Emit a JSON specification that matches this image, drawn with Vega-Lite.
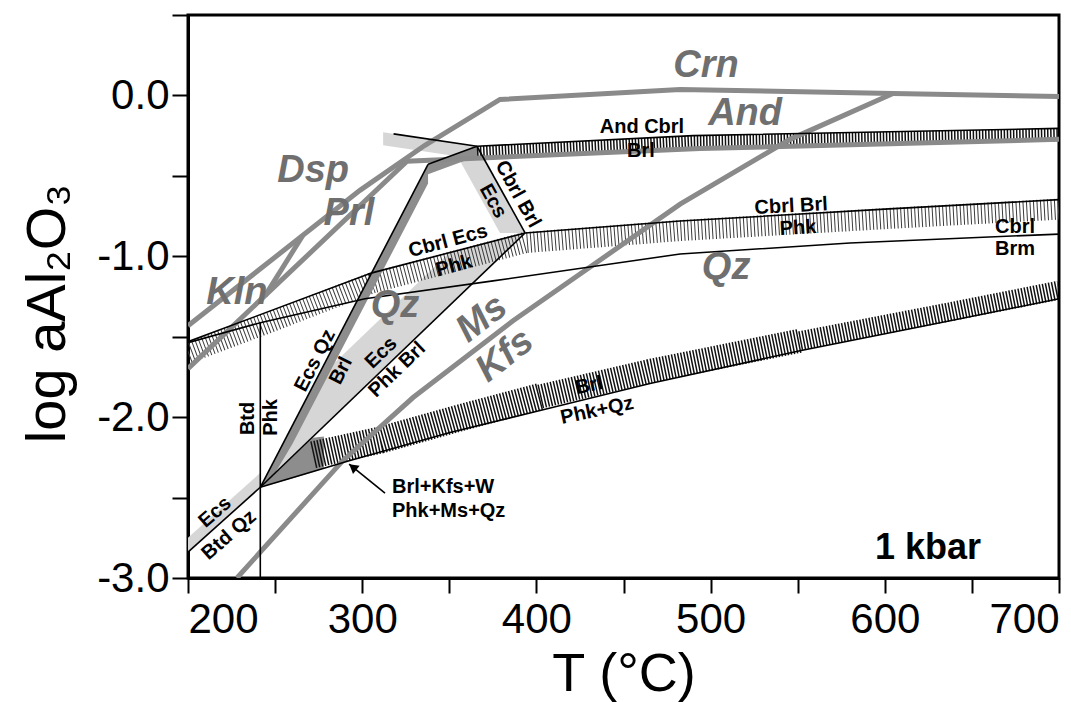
{
  "$schema": "https://vega.github.io/schema/vega-lite/v6.json",
  "width": 871,
  "height": 563,
  "autosize": {"type": "none"},
  "padding": {"left": 188, "top": 15, "right": 12, "bottom": 124},
  "background": "white",
  "config": {"view": {"stroke": "#000", "strokeWidth": 3}, "font": "Liberation Sans"},
  "datasets": {
    "boundaries": [
      {"id": "a", "T": 200, "A": -1.432}, {"id": "a", "T": 298.7, "A": -0.59}, {"id": "a", "T": 336, "A": -0.31}, {"id": "a", "T": 379.1, "A": -0.025}, {"id": "a", "T": 482.5, "A": 0.037}, {"id": "a", "T": 604.7, "A": 0.012}, {"id": "a", "T": 700, "A": -0.006},
      {"id": "b", "T": 200, "A": -1.698}, {"id": "b", "T": 325.7, "A": -0.409}, {"id": "b", "T": 493.9, "A": -0.33}, {"id": "b", "T": 700, "A": -0.273},
      {"id": "c", "T": 244.2, "A": -1.246}, {"id": "c", "T": 266, "A": -0.869},
      {"id": "d", "T": 228.1, "A": -3.0}, {"id": "d", "T": 289, "A": -2.269}, {"id": "d", "T": 329.2, "A": -1.878}, {"id": "d", "T": 386.6, "A": -1.401}, {"id": "d", "T": 482.5, "A": -0.676}, {"id": "d", "T": 545.6, "A": -0.273}, {"id": "d", "T": 604.7, "A": 0.012}
    ],
    "reactions": [
      {"id": "r1", "T": 200, "A": -2.839}, {"id": "r1", "T": 241.5, "A": -2.436},
      {"id": "r2", "T": 241.5, "A": -3.0}, {"id": "r2", "T": 241.5, "A": -1.413},
      {"id": "r3", "T": 241.5, "A": -2.436}, {"id": "r3", "T": 337.8, "A": -0.428},
      {"id": "r4", "T": 241.5, "A": -2.436}, {"id": "r4", "T": 393.5, "A": -0.855},
      {"id": "r5", "T": 241.5, "A": -2.436}, {"id": "r5", "T": 293, "A": -2.269}, {"id": "r5", "T": 350.4, "A": -2.095}, {"id": "r5", "T": 402.1, "A": -1.959}, {"id": "r5", "T": 465.2, "A": -1.791}, {"id": "r5", "T": 551.3, "A": -1.587}, {"id": "r5", "T": 637.5, "A": -1.401}, {"id": "r5", "T": 700, "A": -1.264},
      {"id": "r6", "T": 200, "A": -1.531}, {"id": "r6", "T": 305.6, "A": -1.103}, {"id": "r6", "T": 393.5, "A": -0.855}, {"id": "r6", "T": 482.5, "A": -0.781}, {"id": "r6", "T": 600, "A": -0.707}, {"id": "r6", "T": 700, "A": -0.648},
      {"id": "r7", "T": 200, "A": -1.537}, {"id": "r7", "T": 241.5, "A": -1.413}, {"id": "r7", "T": 301.6, "A": -1.264}, {"id": "r7", "T": 375.1, "A": -1.153}, {"id": "r7", "T": 482.5, "A": -0.986}, {"id": "r7", "T": 580, "A": -0.917}, {"id": "r7", "T": 700, "A": -0.862},
      {"id": "r8", "T": 337.8, "A": -0.428}, {"id": "r8", "T": 365.9, "A": -0.316},
      {"id": "r9", "T": 318, "A": -0.239}, {"id": "r9", "T": 365.9, "A": -0.316},
      {"id": "r10", "T": 365.9, "A": -0.316}, {"id": "r10", "T": 490, "A": -0.25}, {"id": "r10", "T": 700, "A": -0.205},
      {"id": "r11", "T": 365.9, "A": -0.316}, {"id": "r11", "T": 393.5, "A": -0.855},
      {"id": "arrow", "T": 313.1, "A": -2.473}, {"id": "arrow", "T": 292.5, "A": -2.292}
    ],
    "arrowhead": [{"T": 294.6, "A": -2.31}],
    "stipple": [
      {"id": "s1", "T": 241.5, "A": -2.436, "A2": -2.436}, {"id": "s1", "T": 273.1, "A": -1.777, "A2": -2.107}, {"id": "s1", "T": 350, "A": -0.978, "A2": -1.307}, {"id": "s1", "T": 393.5, "A": -0.855, "A2": -0.855},
      {"id": "s2", "T": 200, "A": -2.749, "A2": -2.839}, {"id": "s2", "T": 241.5, "A": -2.346, "A2": -2.436},
      {"id": "s3", "T": 351.5, "A": -0.316, "A2": -0.316}, {"id": "s3", "T": 365.9, "A": -0.316, "A2": -0.597}, {"id": "s3", "T": 379.1, "A": -0.574, "A2": -0.855}, {"id": "s3", "T": 393.5, "A": -0.855, "A2": -0.855},
      {"id": "s4", "T": 312, "A": -0.229, "A2": -0.309}, {"id": "s4", "T": 365.9, "A": -0.316, "A2": -0.396}
    ],
    "vhatch": [
      {"id": "h1", "T": 241.5, "A": -2.436, "A2": -2.436}, {"id": "h1", "T": 250, "A": -2.257, "A2": -2.348}, {"id": "h1", "T": 260, "A": -2.05, "A2": -2.166}, {"id": "h1", "T": 337.8, "A": -0.428, "A2": -0.548},
      {"id": "h2", "T": 337.8, "A": -0.428, "A2": -0.49}, {"id": "h2", "T": 365.9, "A": -0.316, "A2": -0.378},
      {"id": "h4", "T": 241.5, "A": -2.436, "A2": -2.436}, {"id": "h4", "T": 258.6, "A": -2.262, "A2": -2.384}, {"id": "h4", "T": 271.8, "A": -2.128, "A2": -2.341}, {"id": "h4", "T": 278, "A": -2.12, "A2": -2.32}
    ],
    "hatchStrips": [
      {"id": "andBand", "T": 365.9, "A": -0.356}, {"id": "andBand", "T": 490, "A": -0.29}, {"id": "andBand", "T": 700, "A": -0.245}
    ],
    "brlStrips": [
      {"id": "A", "T": 271.8, "A": -2.234}, {"id": "A", "T": 310.2, "A": -2.143}, {"id": "A", "T": 356.2, "A": -2.004}, {"id": "A", "T": 402.1, "A": -1.872},
      {"id": "B", "T": 402.1, "A": -1.872}, {"id": "B", "T": 465.2, "A": -1.713}, {"id": "B", "T": 551.3, "A": -1.525},
      {"id": "C", "T": 551.3, "A": -1.525}, {"id": "C", "T": 637.5, "A": -1.345}, {"id": "C", "T": 700, "A": -1.211}
    ],
    "diagStrips": [
      {"id": "phkBand", "T": 200, "A": -1.6}, {"id": "phkBand", "T": 241.5, "A": -1.432}, {"id": "phkBand", "T": 305.6, "A": -1.166}, {"id": "phkBand", "T": 393.5, "A": -0.915}, {"id": "phkBand", "T": 482.5, "A": -0.84}, {"id": "phkBand", "T": 600, "A": -0.766}, {"id": "phkBand", "T": 700, "A": -0.707}
    ],
    "labels": [
      {"grp": "field", "text": "Crn", "T": 497.4, "A": 0.186},
      {"grp": "field", "text": "And", "T": 519.8, "A": -0.118},
      {"grp": "field", "text": "Dsp", "T": 271.8, "A": -0.471},
      {"grp": "field", "text": "Prl", "T": 292.4, "A": -0.735},
      {"grp": "field", "text": "Kln", "T": 228.1, "A": -1.227},
      {"grp": "field", "text": "Qz", "T": 318.8, "A": -1.308},
      {"grp": "field", "text": "Qz", "T": 508.9, "A": -1.072},
      {"grp": "fieldDiag", "text": "Ms", "T": 368.8, "A": -1.388},
      {"grp": "fieldDiag", "text": "Kfs", "T": 382, "A": -1.618},
      {"grp": "h", "text": "And Cbrl", "T": 460.6, "A": -0.198},
      {"grp": "h", "text": "Brl", "T": 460, "A": -0.347},
      {"grp": "h", "text": "Cbrl", "T": 674.8, "A": -0.818},
      {"grp": "h", "text": "Brm", "T": 674.8, "A": -0.955},
      {"grp": "r6r", "text": "Cbrl  Brl", "T": 546.2, "A": -0.688},
      {"grp": "r6r", "text": "Phk", "T": 550.2, "A": -0.824},
      {"grp": "r6m", "text": "Cbrl Ecs", "T": 349.3, "A": -0.905},
      {"grp": "r6m", "text": "Phk", "T": 352.7, "A": -1.06},
      {"grp": "r11", "text": "Cbrl Brl", "T": 389.4, "A": -0.614},
      {"grp": "r11", "text": "Ecs", "T": 375.1, "A": -0.657},
      {"grp": "r3", "text": "Ecs Qz", "T": 272.9, "A": -1.649},
      {"grp": "r3", "text": "Brl", "T": 287.8, "A": -1.711},
      {"grp": "r4", "text": "Ecs", "T": 310.8, "A": -1.6},
      {"grp": "r4", "text": "Phk Brl", "T": 320, "A": -1.705},
      {"grp": "r2", "text": "Btd", "T": 234.4, "A": -2.008},
      {"grp": "r2", "text": "Phk", "T": 247.6, "A": -2.002},
      {"grp": "r1", "text": "Ecs", "T": 215.5, "A": -2.591},
      {"grp": "r1", "text": "Btd Qz", "T": 223.5, "A": -2.733},
      {"grp": "r5", "text": "Brl", "T": 430.2, "A": -1.804},
      {"grp": "r5", "text": "Phk+Qz", "T": 434.8, "A": -1.959},
      {"grp": "note", "text": "Brl+Kfs+W", "T": 317.1, "A": -2.436},
      {"grp": "note", "text": "Phk+Ms+Qz", "T": 317.1, "A": -2.585},
      {"grp": "kbar", "text": "1 kbar", "T": 624.8, "A": -2.814}
    ]
  },
  "encoding": {
    "x": {
      "field": "T", "type": "quantitative",
      "scale": {"domain": [200, 700], "nice": false, "zero": false},
      "axis": {
        "values": [200, 250, 300, 350, 400, 450, 500, 550, 600, 650, 700],
        "labelExpr": "datum.value % 100 === 0 ? '' + datum.value : ''",
        "labelFlush": true, "labelOverlap": false,
        "labelFont": "Liberation Sans", "labelFontSize": 42, "labelColor": "#000", "labelPadding": 6,
        "tickSize": 15, "tickWidth": 2, "tickColor": "#000",
        "domainColor": "#000", "domainWidth": 3, "grid": false,
        "title": "T (°C)", "titleFont": "Liberation Sans", "titleFontSize": 54, "titleFontWeight": "normal", "titleColor": "#000",
        "titleBaseline": "alphabetic", "titleY": 112
      }
    },
    "y": {
      "field": "A", "type": "quantitative",
      "scale": {"domain": [-3, 0.5], "nice": false, "zero": false},
      "axis": {
        "values": [-3, -2.5, -2, -1.5, -1, -0.5, 0, 0.5],
        "labelExpr": "datum.value % 1 === 0 ? (datum.value < 0 ? '-' + format(-datum.value, '.1f') : format(datum.value, '.1f')) : ''",
        "labelOverlap": false,
        "labelFont": "Liberation Sans", "labelFontSize": 42, "labelColor": "#000", "labelPadding": 3,
        "tickSize": 16, "tickWidth": 2, "tickColor": "#000",
        "domainColor": "#000", "domainWidth": 3, "grid": false,
        "title": "log aAl₂O₃", "titleFont": "Liberation Sans", "titleFontSize": 56, "titleFontWeight": "normal", "titleColor": "#000",
        "titleBaseline": "alphabetic", "titleX": -124, "titleY": 298
      }
    }
  },
  "layer": [
    {"data": {"name": "stipple"}, "mark": {"type": "area", "color": "#d6d6d6", "clip": true}, "encoding": {"y2": {"field": "A2"}, "detail": {"field": "id"}}},
    {"data": {"name": "diagStrips"}, "mark": {"type": "line", "color": "#3a3a3a", "strokeWidth": 21, "strokeDash": [1, 2.5], "strokeJoin": "bevel", "clip": true}, "encoding": {"detail": {"field": "id"}}},
    {"data": {"name": "vhatch"}, "mark": {"type": "area", "color": "#8d8d8d", "clip": true}, "encoding": {"y2": {"field": "A2"}, "detail": {"field": "id"}}},
    {"data": {"name": "hatchStrips"}, "mark": {"type": "line", "color": "#111", "strokeWidth": 13, "strokeDash": [1.5, 1.6], "clip": true}, "encoding": {"detail": {"field": "id"}}},
    {"data": {"name": "brlStrips"}, "transform": [{"filter": "datum.id === 'A'"}], "mark": {"type": "line", "color": "#111", "strokeWidth": 27, "strokeDash": [1.5, 1.6], "strokeJoin": "bevel", "clip": true}, "encoding": {"detail": {"field": "id"}}},
    {"data": {"name": "brlStrips"}, "transform": [{"filter": "datum.id === 'B'"}], "mark": {"type": "line", "color": "#111", "strokeWidth": 24, "strokeDash": [1.5, 1.6], "strokeJoin": "bevel", "clip": true}, "encoding": {"detail": {"field": "id"}}},
    {"data": {"name": "brlStrips"}, "transform": [{"filter": "datum.id === 'C'"}], "mark": {"type": "line", "color": "#111", "strokeWidth": 19, "strokeDash": [1.5, 1.6], "strokeJoin": "bevel", "clip": true}, "encoding": {"detail": {"field": "id"}}},
    {"data": {"name": "boundaries"}, "mark": {"type": "line", "color": "#8a8a8a", "strokeWidth": 5, "clip": true}, "encoding": {"detail": {"field": "id"}}},
    {"data": {"name": "reactions"}, "mark": {"type": "line", "color": "#000", "strokeWidth": 1.6, "clip": true}, "encoding": {"detail": {"field": "id"}}},
    {"data": {"name": "arrowhead"}, "mark": {"type": "point", "shape": "triangle-up", "filled": true, "color": "#000", "size": 110, "angle": -51, "opacity": 1}},
    {"data": {"name": "labels"}, "transform": [{"filter": "datum.grp === 'field'"}], "mark": {"type": "text", "font": "Liberation Sans", "fontSize": 38, "fontWeight": "bold", "fontStyle": "italic", "color": "#6f6f6f", "align": "center", "baseline": "middle"}, "encoding": {"text": {"field": "text"}}},
    {"data": {"name": "labels"}, "transform": [{"filter": "datum.grp === 'fieldDiag'"}], "mark": {"type": "text", "font": "Liberation Sans", "fontSize": 38, "fontWeight": "bold", "fontStyle": "italic", "color": "#6f6f6f", "align": "center", "baseline": "middle", "angle": -38}, "encoding": {"text": {"field": "text"}}},
    {"data": {"name": "labels"}, "transform": [{"filter": "datum.grp === 'h'"}], "mark": {"type": "text", "font": "Liberation Sans", "fontSize": 20, "fontWeight": "bold", "color": "#000", "align": "center", "baseline": "middle"}, "encoding": {"text": {"field": "text"}}},
    {"data": {"name": "labels"}, "transform": [{"filter": "datum.grp === 'r6r'"}], "mark": {"type": "text", "font": "Liberation Sans", "fontSize": 20, "fontWeight": "bold", "color": "#000", "align": "center", "baseline": "middle", "angle": -3}, "encoding": {"text": {"field": "text"}}},
    {"data": {"name": "labels"}, "transform": [{"filter": "datum.grp === 'r6m'"}], "mark": {"type": "text", "font": "Liberation Sans", "fontSize": 20, "fontWeight": "bold", "color": "#000", "align": "center", "baseline": "middle", "angle": -15}, "encoding": {"text": {"field": "text"}}},
    {"data": {"name": "labels"}, "transform": [{"filter": "datum.grp === 'r11'"}], "mark": {"type": "text", "font": "Liberation Sans", "fontSize": 20, "fontWeight": "bold", "color": "#000", "align": "center", "baseline": "middle", "angle": 61}, "encoding": {"text": {"field": "text"}}},
    {"data": {"name": "labels"}, "transform": [{"filter": "datum.grp === 'r3'"}], "mark": {"type": "text", "font": "Liberation Sans", "fontSize": 20, "fontWeight": "bold", "color": "#000", "align": "center", "baseline": "middle", "angle": -63}, "encoding": {"text": {"field": "text"}}},
    {"data": {"name": "labels"}, "transform": [{"filter": "datum.grp === 'r4'"}], "mark": {"type": "text", "font": "Liberation Sans", "fontSize": 20, "fontWeight": "bold", "color": "#000", "align": "center", "baseline": "middle", "angle": -44}, "encoding": {"text": {"field": "text"}}},
    {"data": {"name": "labels"}, "transform": [{"filter": "datum.grp === 'r2'"}], "mark": {"type": "text", "font": "Liberation Sans", "fontSize": 20, "fontWeight": "bold", "color": "#000", "align": "center", "baseline": "middle", "angle": -90}, "encoding": {"text": {"field": "text"}}},
    {"data": {"name": "labels"}, "transform": [{"filter": "datum.grp === 'r1'"}], "mark": {"type": "text", "font": "Liberation Sans", "fontSize": 20, "fontWeight": "bold", "color": "#000", "align": "center", "baseline": "middle", "angle": -41}, "encoding": {"text": {"field": "text"}}},
    {"data": {"name": "labels"}, "transform": [{"filter": "datum.grp === 'r5'"}], "mark": {"type": "text", "font": "Liberation Sans", "fontSize": 20, "fontWeight": "bold", "color": "#000", "align": "center", "baseline": "middle", "angle": -12}, "encoding": {"text": {"field": "text"}}},
    {"data": {"name": "labels"}, "transform": [{"filter": "datum.grp === 'note'"}], "mark": {"type": "text", "font": "Liberation Sans", "fontSize": 20, "fontWeight": "bold", "color": "#000", "align": "left", "baseline": "middle"}, "encoding": {"text": {"field": "text"}}},
    {"data": {"name": "labels"}, "transform": [{"filter": "datum.grp === 'kbar'"}], "mark": {"type": "text", "font": "Liberation Sans", "fontSize": 36, "fontWeight": "bold", "color": "#000", "align": "center", "baseline": "middle"}, "encoding": {"text": {"field": "text"}}}
  ]
}
